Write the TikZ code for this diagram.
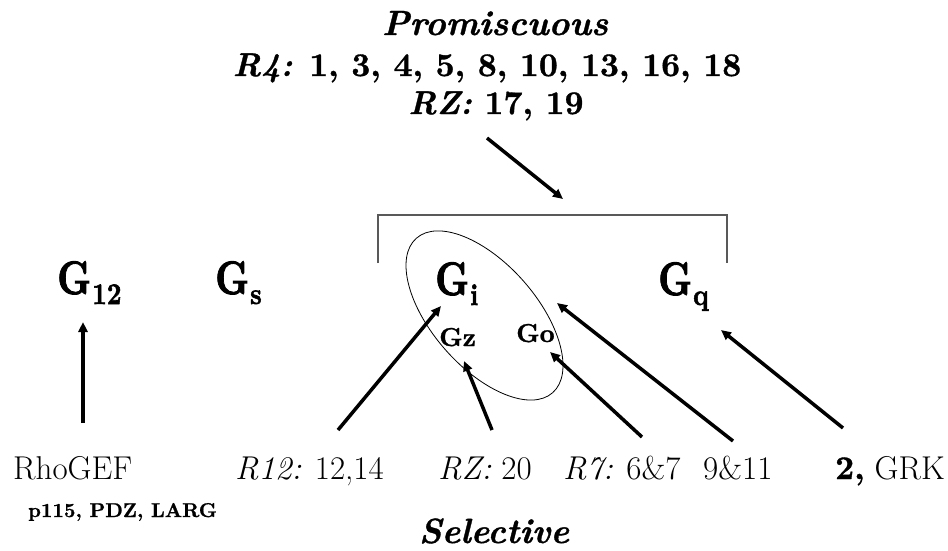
\documentclass[tikz,border=0pt]{standalone}
\usepackage{graphicx}
\usepackage{fontspec}
\setmainfont{Latin Modern Roman}
\newfontfamily\gheavy{lmroman10-bold.otf}[FakeBold=2]
\newfontfamily\hheavy{lmroman10-bolditalic.otf}[FakeBold=1]
\newfontfamily\nheavy{lmroman10-bold.otf}[FakeBold=1]
\usetikzlibrary{arrows.meta}

% G-protein family label: narrow heavy G with a lowered subscript
\newcommand{\gfam}[1]{\fontsize{47}{47}\gheavy\scalebox{0.8}[1]{G}\kern1pt\raisebox{-10pt}{\fontsize{30}{30}\selectfont\scalebox{0.85}[1]{#1}}}

\tikzset{
  lbl/.style={inner sep=0pt, anchor=base west},
  ctr/.style={inner sep=0pt, anchor=base},
  big/.style={font=\fontsize{33}{33}\selectfont},
  head/.style={font=\fontsize{35}{35}\hheavy},
  top/.style={font=\fontsize{33}{33}\nheavy},
  sub/.style={font=\fontsize{26}{26}\nheavy},
  conn/.style={line width=3.5pt, -{Triangle[length=10pt,width=9pt]}},
  bracket/.style={line width=1.6pt, draw=black!65},
}

\begin{document}
\begin{tikzpicture}[x=1pt, y=-1pt]
\useasboundingbox (0,0) rectangle (948,550);

% header texts
\node[ctr, head] (prom) at (495,35) {Promiscuous};
\node[ctr, top] (r4) at (487,76) {{\hheavy R4:} 1, 3, 4, 5, 8, 10, 13, 16, 18};
\node[ctr, top] (rz) at (496,114) {{\hheavy RZ:} 17, 19};

% G-protein families
\node[lbl] (g12) at (57,294) {\gfam{12}};
\node[lbl] (gs) at (215,294) {\gfam{s}};
\node[lbl] (gi) at (435,295) {\gfam{i}};
\node[lbl] (gq) at (658,295) {\gfam{q}};
\node[lbl, sub] (gz) at (439,346) {Gz};
\node[lbl, sub] (go) at (516,342) {Go};

% Gi/Go/Gz grouping
\coordinate (ec) at (484.5,315.5);
\draw[line width=0.8pt, rotate around={-48.6:(ec)}] (ec) ellipse [x radius=103, y radius=52];

% bracket over the promiscuously coupled families
\coordinate (bl) at (378,263);
\coordinate (br) at (727,263);
\draw[bracket] (bl) -- (378,215) -- (727,215) -- (br);

% receptor labels
\node[lbl, big] (rho) at (13,479) {RhoGEF};
\node[lbl, font=\fontsize{20}{20}\nheavy] (p115) at (28,517) {p115, PDZ, LARG};
\node[lbl, big] (r12) at (235,479) {\textit{R12:} 12,14};
\node[lbl, big] (rz20) at (438,479) {\textit{RZ:} 20};
\node[lbl, big] (r7) at (563,479) {\textit{R7:} 6\&7};
\node[lbl, big] (r911) at (703,479) {9\&11};
\node[lbl, big] (grk) at (835,479) {{\nheavy 2,} GRK};
\node[ctr, head] (sel) at (494,543) {Selective};

% arrow end points
\coordinate (topT) at (487,138);  \coordinate (topH) at (563,199);
\coordinate (g12T) at (83,423);   \coordinate (g12H) at (83,322);
\coordinate (r12T) at (338,430);  \coordinate (r12H) at (441,306);
\coordinate (rzT) at (492,430);   \coordinate (rzH) at (464,361);
\coordinate (r7T) at (642,437);   \coordinate (r7H) at (550,352);
\coordinate (r9T) at (733,441);   \coordinate (r9H) at (557,303);
\coordinate (grkT) at (843,428);  \coordinate (grkH) at (721,330);

\draw[conn] (topT) -- (topH);
\draw[conn] (g12T) -- (g12H);
\draw[conn] (r12T) -- (r12H);
\draw[conn] (rzT) -- (rzH);
\draw[conn] (r7T) -- (r7H);
\draw[conn] (r9T) -- (r9H);
\draw[conn] (grkT) -- (grkH);
\end{tikzpicture}
\end{document}
